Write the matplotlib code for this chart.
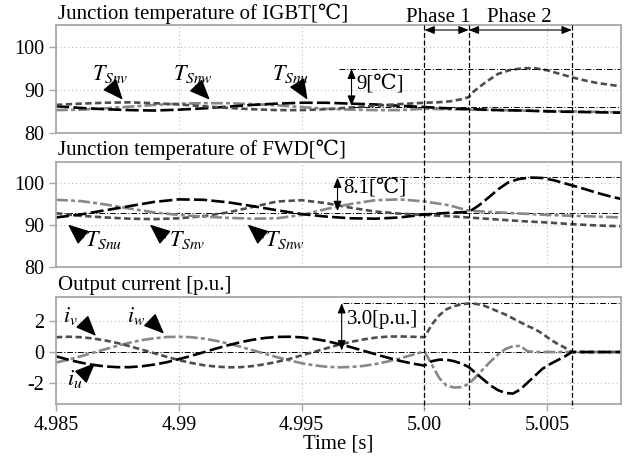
import matplotlib
matplotlib.use('Agg')
import matplotlib.pyplot as plt
from matplotlib import transforms
from matplotlib.lines import Line2D

plt.rcParams['font.family'] = ['Liberation Serif', 'DejaVu Serif', 'Noto Sans CJK SC']
plt.rcParams['mathtext.fontset'] = 'stix'
plt.rcParams['axes.unicode_minus'] = False

# Steady-state time base for the temperatures [s]
t_ss = [4.985, 4.986, 4.987, 4.988, 4.989, 4.990, 4.991, 4.992,
        4.993, 4.994, 4.995, 4.996, 4.997, 4.998, 4.999, 5.000]

# IGBT junction temperature [degC]
igbt_u_ss = [86.2, 85.8, 85.5, 85.3, 85.2, 85.4, 85.7, 86.1, 86.5, 86.8, 87.0, 87.0, 86.8, 86.6, 86.3, 86.0]
igbt_v_ss = [86.5, 86.8, 87.0, 87.1, 86.9, 86.6, 86.2, 85.8, 85.5, 85.3, 85.3, 85.5, 85.9, 86.3, 86.7, 87.0]
igbt_w_ss = [85.3, 85.4, 85.7, 86.1, 86.5, 86.8, 86.9, 86.9, 86.7, 86.4, 86.0, 85.6, 85.4, 85.3, 85.3, 85.6]
t_slow = [5.001, 5.002, 5.003, 5.004, 5.005, 5.006, 5.007, 5.008]
igbt_u_tr = [85.7, 85.5, 85.3, 85.2, 85.0, 84.9, 84.8, 84.7]
igbt_w_tr = [85.5, 85.4, 85.3, 85.2, 85.1, 85.0, 84.9, 84.8]
t_igbt_v_tr = [5.0005, 5.001, 5.0015, 5.0018, 5.002, 5.0025, 5.003, 5.0035, 5.004,
               5.0045, 5.005, 5.0055, 5.006, 5.0065, 5.007, 5.0075, 5.008]
igbt_v_tr = [87.1, 87.3, 87.8, 88.3, 89.6, 91.8, 93.7, 94.6, 95.0,
             95.0, 94.5, 93.7, 92.9, 92.2, 91.6, 91.2, 90.8]

# FWD junction temperature [degC]
fwd_u_ss = [91.8, 92.5, 93.5, 94.5, 95.5, 96.1, 96.0, 95.4, 94.5, 93.5, 92.6, 92.0, 91.6, 91.5, 91.8, 92.5]
fwd_v_ss = [92.8, 92.2, 91.8, 91.5, 91.4, 91.6, 92.1, 93.0, 94.3, 95.6, 95.9, 95.2, 94.1, 93.2, 92.7, 92.4]
fwd_w_ss = [96.0, 95.7, 94.9, 93.9, 93.0, 92.4, 92.0, 91.7, 91.5, 91.6, 92.4, 93.8, 95.0, 95.9, 96.1, 95.6]
t_fwd_u_tr = [5.001, 5.0018, 5.0022, 5.0026, 5.003, 5.0034, 5.0038, 5.0043,
              5.0048, 5.0053, 5.0059, 5.0065, 5.007, 5.0075, 5.008]
fwd_u_tr = [92.9, 93.1, 94.6, 96.5, 98.5, 100.1, 100.9, 101.3,
            101.2, 100.6, 99.6, 98.6, 97.7, 96.9, 96.2]
fwd_v_tr = [92.1, 91.7, 91.3, 90.9, 90.6, 90.2, 89.9, 89.7]
t_fwd_w_tr = [5.001, 5.0018, 5.003, 5.004, 5.005, 5.006, 5.007, 5.008]
fwd_w_tr = [94.7, 93.4, 93.0, 92.7, 92.4, 92.2, 92.0, 91.8]

# Output current [p.u.]
t_cur_ss = [4.985, 4.9855, 4.986, 4.9865, 4.987, 4.9875, 4.988, 4.9885, 4.989, 4.9895,
            4.990, 4.9905, 4.991, 4.9915, 4.992, 4.9925, 4.993, 4.9935, 4.994, 4.9945,
            4.995, 4.9955, 4.996, 4.9965, 4.997, 4.9975, 4.998, 4.9985, 4.999, 4.9995, 5.000]
i_u_ss = [-0.28, -0.50, -0.69, -0.84, -0.94, -0.99, -0.99, -0.93, -0.82, -0.67,
          -0.47, -0.25, -0.02, 0.22, 0.44, 0.64, 0.80, 0.92, 0.99, 1.00,
          0.96, 0.86, 0.72, 0.53, 0.32, 0.09, -0.14, -0.37, -0.58, -0.75, -0.89]
i_v_ss = [0.97, 1.00, 0.97, 0.89, 0.76, 0.59, 0.38, 0.15, -0.08, -0.31,
          -0.53, -0.71, -0.86, -0.95, -1.00, -0.99, -0.92, -0.80, -0.64, -0.45,
          -0.22, 0.01, 0.24, 0.47, 0.66, 0.82, 0.94, 1.01, 1.02, 1.00, 0.97]
i_w_ss = [-0.69, -0.50, -0.28, -0.05, 0.18, 0.41, 0.61, 0.78, 0.90, 0.98,
          1.00, 0.97, 0.88, 0.74, 0.56, 0.35, 0.12, -0.11, -0.34, -0.55,
          -0.73, -0.87, -0.96, -1.00, -0.98, -0.91, -0.79, -0.62, -0.42, -0.19, 0.04]
t_cur_tr = [5.0003, 5.0006, 5.0009, 5.0012, 5.0015, 5.0018, 5.0021, 5.0024, 5.0027, 5.003,
            5.0033, 5.0036, 5.0039, 5.0042, 5.0045, 5.0048, 5.0051, 5.0054, 5.0057, 5.006,
            5.007, 5.008]
i_u_tr = [-0.6, -0.5, -0.5, -0.6, -0.75, -0.98, -1.4, -1.8, -2.2, -2.5,
          -2.68, -2.72, -2.45, -2.0, -1.55, -1.1, -0.8, -0.55, -0.3, 0.0, 0.0, 0.0]
i_v_tr = [1.8, 2.4, 2.8, 3.0, 3.12, 3.18, 3.15, 3.05, 2.85, 2.65,
          2.45, 2.2, 1.95, 1.7, 1.5, 1.2, 0.85, 0.55, 0.3, 0.0, 0.0, 0.0]
i_w_tr = [-0.83, -1.7, -2.2, -2.32, -2.3, -2.1, -1.6, -1.1, -0.6, -0.15,
          0.2, 0.38, 0.4, 0.05, 0.0, 0.0, 0.0, 0.0, 0.0, 0.0, 0.0, 0.0]

phase_edges = [5.000, 5.0018, 5.006]
x_ticks = [4.985, 4.99, 4.995, 5.0, 5.005]
x_ticklabels = ['4.985', '4.99', '4.995', '5.00', '5.005']

# line styles: u black long dash, v dark gray short dash, w light gray dash-dot
sty_u = dict(color='black', lw=1.9, dashes=(5, 1.6))
sty_v = dict(color='#4d4d4d', lw=1.9, dashes=(2.4, 1.3))
sty_w = dict(color='#888888', lw=1.9, dashes=(4.5, 1.2, 1.5, 1.2))
ref_sty = dict(color='black', lw=0.7, ls=(0, (6, 2, 1, 2)))
arrow1 = dict(arrowstyle='-|>,head_length=0.9,head_width=0.38', mutation_scale=14,
              color='black', lw=1.1, shrinkA=0, shrinkB=0)
arrow2 = dict(arrowstyle='<|-|>,head_length=0.5,head_width=0.2', mutation_scale=12,
              color='black', lw=0.8, shrinkA=0, shrinkB=0)

W, H = 628, 458
fig = plt.figure(figsize=(W / 100, H / 100), dpi=100)


def make_ax(top, bottom):
    ax = fig.add_axes([56 / W, (H - bottom) / H, 565 / W, (bottom - top) / H])
    ax.set_xlim(4.985, 5.008)
    ax.set_xticks(x_ticks)
    ax.grid(True, ls=(0, (1, 2.5)), color='#bdbdbd', lw=0.8)
    for s in ax.spines.values():
        s.set_color('#a8a8a8')
        s.set_linewidth(1.3)
    ax.tick_params(colors='#a8a8a8', labelcolor='black', labelsize=14.5, length=5, width=1)
    return ax


ax1 = make_ax(25, 133)
ax2 = make_ax(162, 267)
ax3 = make_ax(297, 404)

for ax in (ax1, ax2):
    ax.set_ylim(80, 105)
    ax.set_yticks([80, 90, 100])
    ax.tick_params(axis='x', labelbottom=False, length=0)

ax3.set_ylim(-3.4, 3.6)
ax3.set_yticks([-2, 0, 2])
ax3.set_yticklabels(['-2', '0', '2'])
ax3.set_xticklabels(x_ticklabels)
ax3.set_xlabel('Time [s]', fontsize=15, labelpad=0)

# IGBT panel
ax1.plot(t_ss + t_slow, igbt_w_ss + igbt_w_tr, **sty_w)
ax1.plot(t_ss + t_slow, igbt_u_ss + igbt_u_tr, **sty_u)
ax1.plot(t_ss + t_igbt_v_tr, igbt_v_ss + igbt_v_tr, **sty_v)
ax1.plot([4.99654, 5.008], [94.9, 94.9], **ref_sty)
ax1.plot([4.99707, 5.008], [86.1, 86.1], **ref_sty)
ax1.annotate('', xy=(4.99703, 94.9), xytext=(4.99703, 86.3), arrowprops=arrow2)
ax1.text(4.99724, 91.3, '9[℃]', fontsize=15, va='center')
for name, tx, tip, tail in [('Snv', 4.98646, (4.98772, 87.7), (4.98722, 91.0)),
                            ('Snw', 4.98976, (4.99126, 87.7), (4.99070, 91.0)),
                            ('Snu', 4.99378, (4.99524, 87.7), (4.99488, 91.0))]:
    ax1.annotate('', xy=tip, xytext=tail, arrowprops=arrow1)
    ax1.text(tx, 92.2, '$T_{%s}$' % name, fontsize=16)

# FWD panel
ax2.plot([4.985, 5.008], [92.8, 92.8], **ref_sty)
ax2.plot([4.99646, 5.008], [101.4, 101.4], **ref_sty)
ax2.plot(t_ss + t_slow, fwd_v_ss + fwd_v_tr, **sty_v)
ax2.plot(t_ss + t_fwd_w_tr, fwd_w_ss + fwd_w_tr, **sty_w)
ax2.plot(t_ss + t_fwd_u_tr, fwd_u_ss + fwd_u_tr, **sty_u)
ax2.annotate('', xy=(4.99646, 101.3), xytext=(4.99646, 93.3), arrowprops=arrow2)
ax2.text(4.99668, 98.9, '8.1[℃]', fontsize=15, va='center')
for name, tx, tip, tail in [('Snu', 4.98620, (4.98549, 90.1), (4.98612, 87.0)),
                            ('Snv', 4.98961, (4.98882, 90.1), (4.98945, 87.0)),
                            ('Snw', 4.99351, (4.99280, 90.1), (4.99343, 87.0))]:
    ax2.annotate('', xy=tip, xytext=tail, arrowprops=arrow1)
    ax2.text(tx, 84.9, '$T_{%s}$' % name, fontsize=16)

# Current panel
ax3.plot([4.985, 5.008], [0, 0], **ref_sty)
ax3.plot([4.99667, 5.008], [3.2, 3.2], **ref_sty)
ax3.plot(t_cur_ss + t_cur_tr, i_w_ss + i_w_tr, **sty_w)
ax3.plot(t_cur_ss + t_cur_tr, i_v_ss + i_v_tr, **sty_v)
ax3.plot(t_cur_ss + t_cur_tr, i_u_ss + i_u_tr, **sty_u)
ax3.annotate('', xy=(4.99663, 3.2), xytext=(4.99663, 0.1), arrowprops=arrow2)
ax3.text(4.99683, 2.1, '3.0[p.u.]', fontsize=15, va='center')
ax3.annotate('', xy=(4.98663, 1.05), xytext=(4.98612, 1.9), arrowprops=arrow1)
ax3.text(4.98530, 1.95, '$i_v$', fontsize=16)
ax3.annotate('', xy=(4.98940, 1.2), xytext=(4.98888, 2.0), arrowprops=arrow1)
ax3.text(4.98790, 1.95, '$i_w$', fontsize=16)
ax3.annotate('', xy=(4.98659, -0.72), xytext=(4.98606, -1.55), arrowprops=arrow1)
ax3.text(4.98545, -2.15, '$i_u$', fontsize=16)

# panel titles
fig.text(58 / W, 1 - 19 / H, 'Junction temperature of IGBT[℃]', fontsize=15)
fig.text(58 / W, 1 - 155 / H, 'Junction temperature of FWD[℃]', fontsize=15)
fig.text(58 / W, 1 - 290 / H, 'Output current [p.u.]', fontsize=15)

# phase boundaries through all panels
tr = transforms.blended_transform_factory(ax3.transData, fig.transFigure)
for x in phase_edges:
    fig.add_artist(Line2D([x, x], [1 - 25 / H, 1 - 408 / H], transform=tr,
                          color='black', lw=0.9, ls=(0, (4, 2))))
y_arr = 1 - 30 / H
ax3.annotate('', xy=(phase_edges[0], y_arr), xytext=(phase_edges[1], y_arr),
             xycoords=tr, textcoords=tr, arrowprops=arrow2, annotation_clip=False)
ax3.annotate('', xy=(phase_edges[1], y_arr), xytext=(phase_edges[2], y_arr),
             xycoords=tr, textcoords=tr, arrowprops=arrow2, annotation_clip=False)
fig.text(5.00055, 1 - 22 / H, 'Phase 1', transform=tr, ha='center', fontsize=15)
fig.text(5.00388, 1 - 22 / H, 'Phase 2', transform=tr, ha='center', fontsize=15)

fig.savefig('out.png', dpi=100)
